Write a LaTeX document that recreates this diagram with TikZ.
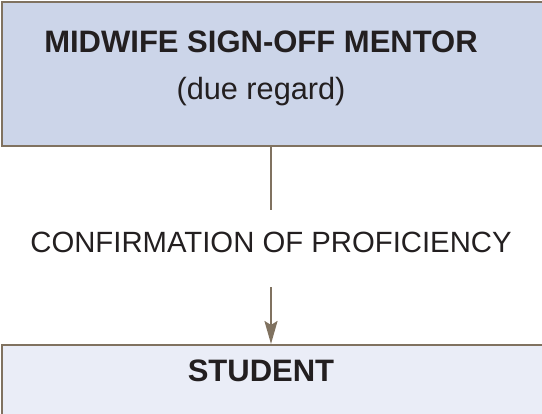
\documentclass[tikz,border=0pt]{standalone}
\usepackage{fontspec}
\setmainfont{Liberation Sans}
\usetikzlibrary{arrows.meta}
\definecolor{linebrown}{RGB}{128,114,96}
\definecolor{mentorblue}{RGB}{204,213,233}
\definecolor{studentblue}{RGB}{234,237,247}
\definecolor{inkgray}{RGB}{35,31,32}
\tikzset{
  box/.style={draw=linebrown, line width=2.2pt, inner sep=0pt, anchor=north west},
  boxtext/.style={text=inkgray, anchor=base, inner sep=0pt},
  link/.style={draw=linebrown, line width=2.2pt}
}
\begin{document}
\begin{tikzpicture}[x=1pt,y=1pt]
  \useasboundingbox (0,0) rectangle (542,414);
  % boxes
  \node[box, fill=mentorblue, minimum width=580pt, minimum height=144pt] (mentor) at (1,413) {};
  \node[box, fill=studentblue, minimum width=580pt, minimum height=90pt] (student) at (1,70) {};
  % texts
  \node[boxtext, font=\bfseries\fontsize{31}{37}\selectfont] (mentortitle) at (261,361) {MIDWIFE SIGN-OFF MENTOR};
  \node[boxtext, font=\fontsize{30.7}{37}\selectfont] (mentorsub) at (261,314) {(due regard)};
  \node[boxtext, font=\bfseries\fontsize{31}{37}\selectfont] (studenttitle) at (261,32) {STUDENT};
  \node[boxtext, font=\fontsize{29.3}{35}\selectfont, text height=43pt, text depth=34pt] (proficiency) at (271,161) {CONFIRMATION OF PROFICIENCY};
  % connectors
  \draw[link] (mentor.south -| proficiency.north) -- (proficiency.north);
  \draw[link, -{Stealth[length=23pt, width=13pt, inset=4pt]}] (proficiency.south) -- (student.north -| proficiency.south);
\end{tikzpicture}
\end{document}
